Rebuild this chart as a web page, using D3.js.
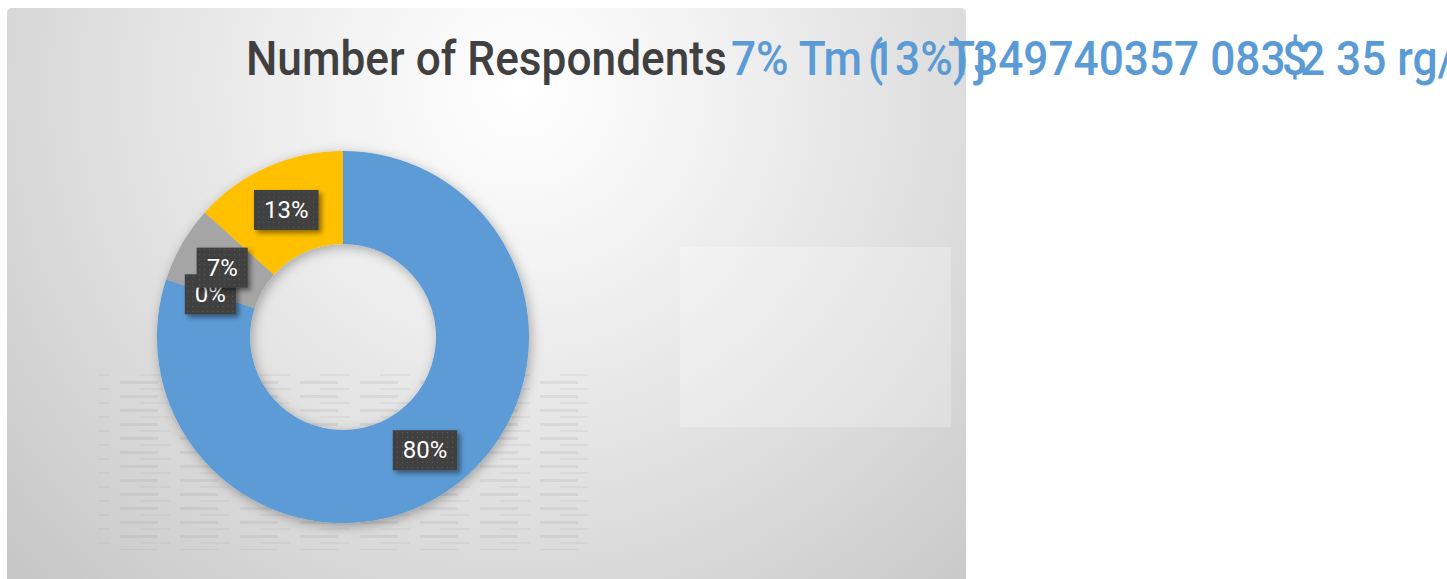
<!DOCTYPE html>
<html>
<head>
<meta charset="utf-8">
<script src="https://cdn.jsdelivr.net/npm/d3@7"></script>
<style>
  html, body { margin: 0; padding: 0; background: #fff; }
  svg { display: block; }
</style>
</head>
<body>
<div id="container"></div>
<script>
/* DATA */
const categories = ["Group A", "Group B", "Group C", "Group D"];
const counts = [24, 0, 2, 4];
const sliceColors = ["#5b9bd5", "#ed7d31", "#a5a5a5", "#ffc000"];
const titleText = "Number of Respondents";
// stray text that leaks out next to the title in the original
const strayTokens = ["7% Tm", "(", "13%)", "Tj", "349740357 083", "$", "2 35 rg/"];
const strayStarts = [731, 868, 870, 948, 973, 1282, 1300];

/* CONSTANTS */
const width = 1447,
      height = 579;
const center = {x: 343, y: 337},
      outerR = 186,
      innerR = 93;
const fontFamily = "Roboto, 'Liberation Sans', Arial, sans-serif";

const svg = d3.select("#container")
  .append("svg")
  .attr("width", width)
  .attr("height", height);

const defs = svg.append("defs");

// chart area background
const bg = defs.append("radialGradient")
  .attr("id", "bgGrad")
  .attr("gradientUnits", "userSpaceOnUse")
  .attr("cx", 520).attr("cy", 90).attr("r", 700);
bg.append("stop").attr("offset", 0).attr("stop-color", "#ffffff");
bg.append("stop").attr("offset", 0.25).attr("stop-color", "#f3f3f3");
bg.append("stop").attr("offset", 0.6).attr("stop-color", "#dfdfdf");
bg.append("stop").attr("offset", 1).attr("stop-color", "#c6c6c6");

const shadow = defs.append("filter")
  .attr("id", "donutShadow")
  .attr("x", "-20%").attr("y", "-20%").attr("width", "140%").attr("height", "140%");
shadow.append("feDropShadow")
  .attr("dx", 2).attr("dy", 3).attr("stdDeviation", 6)
  .attr("flood-color", "#000").attr("flood-opacity", 0.3);

const labelShadow = defs.append("filter")
  .attr("id", "labelShadow")
  .attr("x", "-30%").attr("y", "-30%").attr("width", "160%").attr("height", "160%");
labelShadow.append("feDropShadow")
  .attr("dx", 3).attr("dy", 3).attr("stdDeviation", 2.5)
  .attr("flood-color", "#000").attr("flood-opacity", 0.45);

const dots = defs.append("pattern")
  .attr("id", "dots")
  .attr("patternUnits", "userSpaceOnUse")
  .attr("width", 5).attr("height", 5);
dots.append("rect").attr("width", 5).attr("height", 5).attr("fill", "#404040");
dots.append("rect").attr("x", 2).attr("y", 2).attr("width", 1).attr("height", 1).attr("fill", "#5e5e5e");

// faint streaky texture that sits behind the donut in the original
const streaks = defs.append("pattern")
  .attr("id", "streaks")
  .attr("patternUnits", "userSpaceOnUse")
  .attr("width", 60).attr("height", 14);
streaks.append("rect").attr("x", 0).attr("y", 3).attr("width", 38).attr("height", 3).attr("fill", "#9a9a9a");
streaks.append("rect").attr("x", 20).attr("y", 10).attr("width", 30).attr("height", 2).attr("fill", "#b0b0b0");

svg.append("rect")
  .attr("x", 7).attr("y", 8)
  .attr("width", 959).attr("height", 620)
  .attr("rx", 5)
  .attr("fill", "url(#bgGrad)");

svg.append("rect")
  .attr("x", 98).attr("y", 372)
  .attr("width", 490).attr("height", 178)
  .attr("fill", "url(#streaks)")
  .attr("opacity", 0.18);

// empty legend box
svg.append("rect")
  .attr("x", 680).attr("y", 247)
  .attr("width", 271).attr("height", 180)
  .attr("fill", "#ffffff")
  .attr("opacity", 0.25);

/* DONUT */
const pie = d3.pie().sort(null).value(d => d);
const arcs = pie(counts);
const total = d3.sum(counts);
const formatPct = d3.format(".0%");

const arc = d3.arc().innerRadius(innerR).outerRadius(outerR);

const chart = svg.append("g")
  .attr("transform", `translate(${center.x}, ${center.y})`);

chart.append("g")
  .attr("filter", "url(#donutShadow)")
  .selectAll("path")
  .data(arcs)
  .join("path")
  .attr("d", arc)
  .attr("fill", (d, i) => sliceColors[i]);

const labels = chart.selectAll(".label")
  .data(arcs)
  .join("g")
  .attr("class", "label")
  .attr("transform", d => `translate(${arc.centroid(d)})`);

labels.append("rect").attr("class", "box");
labels.append("text")
  .attr("text-anchor", "middle")
  .attr("dy", "0.35em")
  .attr("fill", "#ffffff")
  .style("font", `400 24px ${fontFamily}`)
  .text(d => formatPct(d.value / total));

labels.each(function() {
  const g = d3.select(this);
  const b = g.select("text").node().getBBox();
  g.select("rect")
    .attr("x", b.x - 10)
    .attr("y", b.y - 6)
    .attr("width", b.width + 20)
    .attr("height", b.height + 12)
    .attr("fill", "url(#dots)")
    .attr("filter", "url(#labelShadow)");
});

/* TITLE */
const titleSize = 48;
const title = svg.append("text")
  .attr("x", 246)
  .attr("y", 75)
  .attr("fill", "#404040")
  .style("font", `500 ${titleSize}px ${fontFamily}`)
  .text(titleText);
const natural = title.node().getComputedTextLength();
const squeeze = 481 / natural;
title.attr("transform", `translate(246,0) scale(${squeeze},1) translate(-246,0)`);

svg.selectAll(".stray")
  .data(strayTokens)
  .join("text")
  .attr("class", "stray")
  .attr("x", (d, i) => strayStarts[i] / squeeze)
  .attr("y", 75)
  .attr("transform", `scale(${squeeze},1)`)
  .attr("fill", "#5b9bd5")
  .style("font", `500 ${titleSize}px ${fontFamily}`)
  .text(d => d);
</script>
</body>
</html>
